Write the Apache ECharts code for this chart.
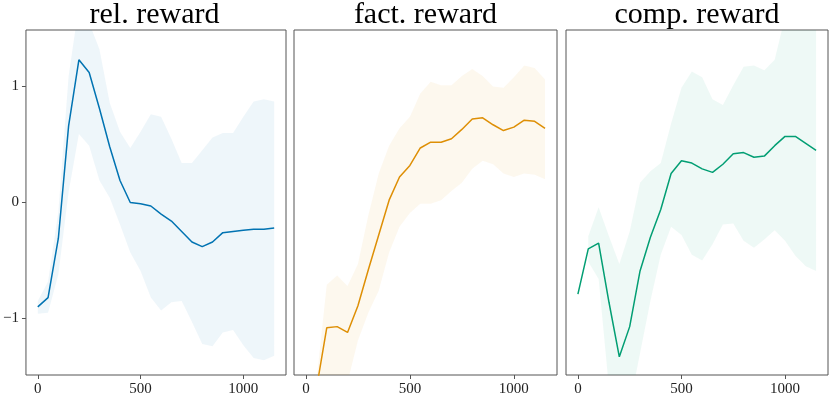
<!DOCTYPE html>
<html>
<head>
	<meta charset="utf-8" />
	<title>reward curves</title>
	<script src="https://cdn.jsdelivr.net/npm/echarts@6.0.0/dist/echarts.min.js"></script>
	<style>
		html, body { margin: 0; padding: 0; background: #fff; }
		#main { width: 830px; height: 397px; }
	</style>
</head>
<body>
	<div id="main"></div>
	<script type="text/javascript">

		/******************* data ******************/
		var steps = [0, 50, 100, 150, 200, 250, 300, 350, 400, 450, 500, 550,
			600, 650, 700, 750, 800, 850, 900, 950, 1000, 1050, 1100, 1150];

		var titles = ['rel. reward', 'fact. reward', 'comp. reward'];
		var colors = ['#0173b2', '#de8f05', '#029e73'];

		// rel. reward
		var relMean = [-0.90, -0.82, -0.31, 0.66, 1.23, 1.12, 0.81, 0.48, 0.19, 0.00, -0.01, -0.03,
			-0.10, -0.16, -0.25, -0.34, -0.38, -0.34, -0.26, -0.25, -0.24, -0.23, -0.23, -0.22];
		var relUpper = [-0.85, -0.68, -0.08, 1.09, 1.70, 1.55, 1.32, 0.86, 0.61, 0.47, 0.61, 0.76,
			0.74, 0.55, 0.34, 0.34, 0.45, 0.56, 0.60, 0.60, 0.74, 0.87, 0.89, 0.87];
		var relLower = [-0.96, -0.95, -0.62, 0.09, 0.59, 0.49, 0.19, 0.04, -0.19, -0.43, -0.59, -0.82,
			-0.93, -0.86, -0.85, -1.03, -1.22, -1.24, -1.12, -1.10, -1.23, -1.34, -1.36, -1.32];

		// fact. reward
		var factMean = [-1.95, -1.61, -1.08, -1.07, -1.12, -0.89, -0.58, -0.28, 0.02, 0.22, 0.32, 0.47,
			0.52, 0.52, 0.55, 0.63, 0.72, 0.73, 0.67, 0.62, 0.65, 0.71, 0.70, 0.64];
		var factUpper = [-2.20, -1.55, -0.71, -0.63, -0.72, -0.53, -0.11, 0.25, 0.49, 0.64, 0.74, 0.94,
			1.04, 1.01, 1.01, 1.09, 1.15, 1.09, 1.00, 0.99, 1.08, 1.18, 1.16, 1.06];
		var factLower = [-2.50, -2.20, -2.00, -1.90, -1.55, -1.19, -0.95, -0.76, -0.43, -0.21, -0.09, -0.01,
			-0.01, 0.02, 0.10, 0.17, 0.29, 0.36, 0.33, 0.25, 0.22, 0.25, 0.24, 0.20];

		// comp. reward (no band at step 0)
		var compMean = [-0.79, -0.40, -0.35, -0.86, -1.33, -1.07, -0.59, -0.30, -0.06, 0.25, 0.36, 0.34,
			0.29, 0.26, 0.33, 0.42, 0.43, 0.39, 0.40, 0.49, 0.57, 0.57, 0.51, 0.45];
		var compUpper = [null, -0.29, -0.04, -0.29, -0.53, -0.25, 0.17, 0.27, 0.34, 0.68, 0.99, 1.13,
			1.08, 0.89, 0.84, 1.01, 1.17, 1.18, 1.14, 1.23, 1.60, 1.80, 1.85, 1.75];
		var compLower = [null, -0.51, -0.66, -1.60, -2.00, -1.75, -1.30, -0.85, -0.45, -0.21, -0.28, -0.45,
			-0.50, -0.36, -0.19, -0.18, -0.33, -0.39, -0.32, -0.24, -0.33, -0.46, -0.55, -0.59];

		var xTicks = [0, 500, 1000];
		var yTicks = [-1, 0, 1];

		/******************* layout ******************/
		var panels = [
			{ left: 23, width: 263, mean: relMean, upper: relUpper, lower: relLower },
			{ left: 294, width: 263, mean: factMean, upper: factUpper, lower: factLower },
			{ left: 566, width: 262, mean: compMean, upper: compUpper, lower: compLower }
		];

		var serif = 'Liberation Serif';

		function pairs(vals) {
			return steps.map(function (s, i) { return [s, vals[i]]; });
		}

		// whole band as one polygon, drawn through the axis scales
		function bandRenderer(p, color) {
			return function (params, api) {
				if (params.dataIndex !== 0) return;
				var top = [], bottom = [];
				steps.forEach(function (s, i) {
					if (p.upper[i] == null || p.lower[i] == null) return;
					top.push(api.coord([s, p.upper[i]]));
					bottom.unshift(api.coord([s, p.lower[i]]));
				});
				var cs = params.coordSys;
				return {
					type: 'group',
					children: [{
						type: 'polygon',
						shape: { points: top.concat(bottom) },
						style: { fill: color, opacity: 0.065 }
					}],
					clipPath: { type: 'rect', shape: { x: cs.x, y: cs.y, width: cs.width, height: cs.height } }
				};
			};
		}

		var option = {
			animation: false,
			backgroundColor: '#fff',
			title: [],
			grid: [],
			xAxis: [],
			yAxis: [],
			series: []
		};

		panels.forEach(function (p, k) {
			option.title.push({
				text: titles[k],
				left: p.left + p.width / 2,
				textAlign: 'center',
				top: 0,
				padding: 0,
				textStyle: { fontFamily: serif, fontSize: 30, fontWeight: 'normal', color: '#000' }
			});
			option.grid.push({
				left: p.left, width: p.width, top: 30, height: 348,
				show: true, borderColor: '#555', borderWidth: 1, backgroundColor: 'transparent'
			});
			option.xAxis.push({
				type: 'value', gridIndex: k, min: -57.5, max: 1207.5,
				axisLine: { show: false, onZero: false },
				splitLine: { show: false },
				axisTick: { show: true, length: 4, inside: false, customValues: xTicks, lineStyle: { color: '#555' } },
				axisLabel: {
					show: true, customValues: xTicks, margin: 7, fontFamily: serif, fontSize: 15, color: '#222',
					formatter: function (v) { return String(v); }
				}
			});
			option.yAxis.push({
				type: 'value', gridIndex: k, min: -1.487, max: 1.487,
				axisLine: { show: false, onZero: false },
				splitLine: { show: false },
				axisTick: { show: k === 0, length: 4, customValues: yTicks, lineStyle: { color: '#555' } },
				axisLabel: {
					show: k === 0, customValues: yTicks, margin: 7, fontFamily: serif, fontSize: 15, color: '#222',
					formatter: function (v) { return v < 0 ? '\u2212' + Math.abs(v) : String(v); }
				}
			});

			option.series.push({
				name: 'band' + k, type: 'custom', xAxisIndex: k, yAxisIndex: k,
				renderItem: bandRenderer(p, colors[k]),
				data: pairs(p.mean), silent: true, z: 1
			});
			option.series.push({
				name: titles[k], type: 'line', xAxisIndex: k, yAxisIndex: k,
				symbol: 'none', lineStyle: { color: colors[k], width: 1.5 },
				itemStyle: { color: colors[k] },
				data: pairs(p.mean), z: 2
			});
		});

		var myChart = echarts.init(document.getElementById('main'), null, { renderer: 'canvas' });
		myChart.setOption(option);
	</script>
</body>
</html>
